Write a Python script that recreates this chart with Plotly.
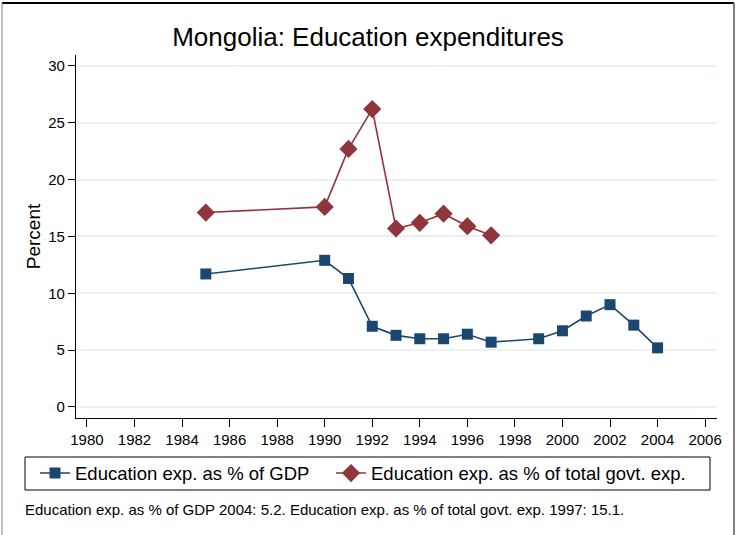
import plotly.graph_objects as go

years_gdp = [1985, 1990, 1991, 1992, 1993, 1994, 1995, 1996, 1997, 1999, 2000, 2001, 2002, 2003, 2004]
edu_gdp = [11.7, 12.9, 11.3, 7.1, 6.3, 6.0, 6.0, 6.4, 5.7, 6.0, 6.7, 8.0, 9.0, 7.2, 5.2]

years_govt = [1985, 1990, 1991, 1992, 1993, 1994, 1995, 1996, 1997]
edu_govt = [17.1, 17.6, 22.7, 26.2, 15.7, 16.2, 17.0, 15.9, 15.1]

x_ticks = list(range(1980, 2007, 2))
y_ticks = [0, 5, 10, 15, 20, 25, 30]

W, H = 736, 535
L, R, T, B = 76, 19, 55, 117
pw, ph = W - L - R, H - T - B


def px(x):
    return (x - L) / pw


def py(y):
    return (H - B - y) / ph


font = "Liberation Sans, Arial, sans-serif"
navy = "#1a476f"
maroon = "#90353b"

fig = go.Figure()
fig.add_trace(go.Scatter(
    x=years_gdp, y=edu_gdp, mode="lines+markers",
    name="Education exp. as % of GDP", legend="legend",
    line=dict(color=navy, width=1.6),
    marker=dict(symbol="square", size=11, color=navy),
))
fig.add_trace(go.Scatter(
    x=years_govt, y=edu_govt, mode="lines+markers",
    name="Education exp. as % of total govt. exp.", legend="legend2",
    line=dict(color=maroon, width=1.6),
    marker=dict(symbol="diamond", size=14, color=maroon),
))

# outer frame and legend box
shapes = [
    dict(type="line", xref="paper", yref="paper", x0=px(2), x1=px(734), y0=py(3), y1=py(3),
         line=dict(color="black", width=2)),
    dict(type="line", xref="paper", yref="paper", x0=px(2), x1=px(2), y0=py(3), y1=py(535),
         line=dict(color="#808080", width=1)),
    dict(type="line", xref="paper", yref="paper", x0=px(734), x1=px(734), y0=py(3), y1=py(535),
         line=dict(color="#808080", width=2)),
    dict(type="rect", xref="paper", yref="paper", x0=px(25), x1=px(710), y0=py(457), y1=py(490),
         line=dict(color="black", width=1)),
]

leg = dict(orientation="h", xanchor="left", y=py(473.5), yanchor="middle",
           font=dict(size=18.5), bgcolor="rgba(0,0,0,0)", borderwidth=0, itemwidth=30)

fig.update_layout(
    width=W, height=H,
    margin=dict(l=L, r=R, t=T, b=B, autoexpand=False),
    paper_bgcolor="white", plot_bgcolor="white",
    font=dict(family=font, color="black"),
    title=dict(text="Mongolia: Education expenditures", x=0.5, xanchor="center",
               y=1 - 37 / H, yanchor="middle", font=dict(size=26)),
    showlegend=True,
    legend=dict(leg, x=px(35)),
    legend2=dict(leg, x=px(331)),
    shapes=shapes,
    annotations=[dict(text="Education exp. as % of GDP 2004: 5.2. Education exp. as % of total govt. exp. 1997: 15.1.",
                      xref="paper", yref="paper", x=px(23), y=py(509), xanchor="left", yanchor="middle",
                      showarrow=False, font=dict(size=15))],
)

fig.update_xaxes(range=[1979.54, 2006.5], tickvals=x_ticks, showgrid=False, zeroline=False,
                 showline=True, linecolor="black", linewidth=1.2, automargin=False,
                 ticks="outside", ticklen=8, tickcolor="black", tickfont=dict(size=15))
fig.update_yaxes(range=[-0.97, 30.96], tickvals=y_ticks, showgrid=True, gridcolor="#eaf2f3", gridwidth=1.5,
                 zeroline=False, showline=True, linecolor="black", linewidth=1.2, automargin=False,
                 ticks="outside", ticklen=7, tickcolor="black", tickfont=dict(size=15),
                 title=dict(text="Percent", font=dict(size=19), standoff=2))

# drop the browser's default page margin so the figure sits at (0, 0)
fig.write_html("out.html", config={"displayModeBar": False},
               post_script="document.body.style.margin='0';")
